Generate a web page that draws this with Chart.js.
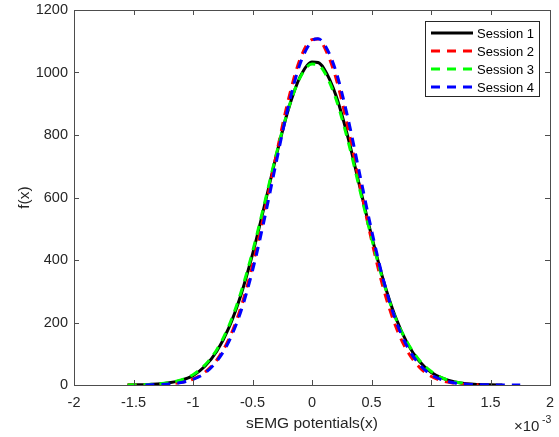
<!DOCTYPE html>
<html>
<head>
<meta charset="utf-8">
<script src="https://cdn.jsdelivr.net/npm/chart.js@4/dist/chart.umd.min.js"></script>
<style>
  body { margin: 0; background: #fff; }
</style>
</head>
<body>
<canvas id="grafico" width="559" height="437"></canvas>
<script>
// x in units of 10^-3
const xsMilli = [-1.55, -1.4, -1.3, -1.2, -1.1, -1.0, -0.9, -0.8, -0.7, -0.6, -0.5, -0.4, -0.3, -0.2, -0.1, 0, 0.05, 0.1, 0.2, 0.3, 0.4, 0.5, 0.6, 0.7, 0.8, 0.9, 1.0, 1.1, 1.2, 1.3, 1.4, 1.5, 1.6, 1.75];

const session1 = [0.3, 1.2, 3, 7, 15, 30, 60, 108, 182, 285, 418, 573, 734, 880, 986, 1034, 1032, 1013, 928, 796, 637, 478, 335, 219, 134, 77, 41, 21, 10, 4, 1.7, 0.7, 0.2, null];
const session2 = [0.1, 0.4, 1.3, 3.4, 8.4, 19, 41, 80, 146, 245, 382, 552, 737, 911, 1043, 1105, 1107, 1084, 984, 827, 644, 464, 309, 191, 109, 58, 28, 13, 5.4, 2.1, 0.7, null, null, null];
const session3 = [0.3, 1.3, 3.3, 7.6, 16.5, 33, 64, 113, 188, 293, 426, 580, 739, 882, 984, 1027, 1024, 1004, 917, 785, 628, 471, 330, 216, 137, 80, 44, 22, 10, 4.3, null, null, null, null];
const session4 = [null, 0.4, 1.2, 3.2, 7.9, 18, 38, 76, 138, 233, 366, 531, 714, 890, 1028, 1101, 1108, 1093, 1005, 857, 677, 496, 336, 211, 123, 67, 33, 15.5, 6.6, 2.7, 1.0, 0.4, 0.2, 0.1];

const xTicks = [-2, -1.5, -1, -0.5, 0, 0.5, 1, 1.5, 2];
const yTicks = [0, 200, 400, 600, 800, 1000, 1200];

const FONT = 'Liberation Sans, Arial, Helvetica, sans-serif';

function pontos(ys) {
    const out = [];
    xsMilli.forEach((x, i) => {
        if (ys[i] !== null) out.push({ x: x, y: ys[i] });
    });
    return out;
}

// box + inward ticks, like the original figure
const caixaPlugin = {
    id: 'caixa',
    afterDatasetsDraw(chart) {
        const ctx = chart.ctx;
        const a = chart.chartArea;
        const sx = chart.scales.x;
        const sy = chart.scales.y;
        ctx.save();
        ctx.strokeStyle = '#4d4d4d';
        ctx.lineWidth = 1;
        ctx.beginPath();
        xTicks.forEach(v => {
            const px = Math.round(sx.getPixelForValue(v)) + 0.5;
            ctx.moveTo(px, a.bottom); ctx.lineTo(px, a.bottom - 5);
            ctx.moveTo(px, a.top); ctx.lineTo(px, a.top + 5);
        });
        yTicks.forEach(v => {
            const py = Math.round(sy.getPixelForValue(v)) + 0.5;
            ctx.moveTo(a.left, py); ctx.lineTo(a.left + 5, py);
            ctx.moveTo(a.right, py); ctx.lineTo(a.right - 5, py);
        });
        ctx.stroke();
        ctx.strokeRect(Math.round(a.left) + 0.5, Math.round(a.top) + 0.5,
            Math.round(a.right - a.left), Math.round(a.bottom - a.top));

        // exponent label
        ctx.fillStyle = '#262626';
        ctx.textBaseline = 'middle';
        ctx.textAlign = 'left';
        ctx.font = '15px ' + FONT;
        ctx.fillText('\u00d710', 514, 427);
        ctx.font = '10.5px ' + FONT;
        ctx.fillText('-3', 542, 420);
        ctx.restore();
    }
};

// legend in the top right corner
const legendaPlugin = {
    id: 'legenda',
    afterDraw(chart) {
        const ctx = chart.ctx;
        const x0 = 425.5, y0 = 21.5, w = 114, h = 75;
        ctx.save();
        ctx.fillStyle = '#fff';
        ctx.fillRect(x0, y0, w, h);
        ctx.strokeStyle = '#262626';
        ctx.lineWidth = 1;
        ctx.strokeRect(x0, y0, w, h);
        ctx.font = '13px ' + FONT;
        ctx.textBaseline = 'middle';
        ctx.textAlign = 'left';
        chart.data.datasets.forEach((ds, i) => {
            const y = 33 + i * 18;
            ctx.strokeStyle = ds.borderColor;
            ctx.lineWidth = ds.borderWidth;
            ctx.setLineDash(ds.borderDash || []);
            ctx.beginPath();
            ctx.moveTo(431, y);
            ctx.lineTo(473, y);
            ctx.stroke();
            ctx.setLineDash([]);
            ctx.fillStyle = '#000';
            ctx.fillText(ds.label, 477, y + 1);
        });
        ctx.restore();
    }
};

const ctx = document.getElementById('grafico').getContext('2d');
const grafico = new Chart(ctx, {
    type: 'line',
    data: {
        datasets: [
            {
                label: 'Session 1',
                data: pontos(session1),
                borderColor: '#000000',
                borderWidth: 3,
                order: 4
            },
            {
                label: 'Session 2',
                data: pontos(session2),
                borderColor: '#ff0000',
                borderWidth: 3,
                borderDash: [9, 7],
                order: 3
            },
            {
                label: 'Session 3',
                data: pontos(session3),
                borderColor: '#00ff00',
                borderWidth: 3,
                borderDash: [9, 7],
                order: 2
            },
            {
                label: 'Session 4',
                data: pontos(session4),
                borderColor: '#0000ff',
                borderWidth: 3,
                borderDash: [9, 7],
                order: 1
            }
        ]
    },
    options: {
        responsive: false,
        animation: false,
        elements: {
            point: { radius: 0 },
            line: { cubicInterpolationMode: 'monotone', fill: false }
        },
        layout: {
            padding: { top: 10, right: 9, left: 0, bottom: 0 }
        },
        plugins: {
            legend: { display: false },
            tooltip: { enabled: false }
        },
        scales: {
            x: {
                type: 'linear',
                min: -2,
                max: 2,
                afterFit(scale) {
                    scale.height = 52;
                    scale.paddingLeft = 0;
                    scale.paddingRight = 0;
                },
                afterBuildTicks(scale) { scale.ticks = xTicks.map(v => ({ value: v })); },
                grid: { display: false, drawTicks: false },
                border: { display: false },
                ticks: {
                    autoSkip: false,
                    maxRotation: 0,
                    padding: 9,
                    color: '#262626',
                    font: { family: FONT, size: 14.5 },
                    callback: v => String(Math.round(v * 10) / 10)
                },
                title: {
                    display: true,
                    text: 'sEMG potentials(x)',
                    color: '#262626',
                    font: { family: FONT, size: 15.5 },
                    padding: { top: 0, bottom: 4 }
                }
            },
            y: {
                min: 0,
                max: 1200,
                afterFit(scale) {
                    scale.width = 74;
                    scale.paddingTop = 0;
                    scale.paddingBottom = 0;
                },
                afterBuildTicks(scale) { scale.ticks = yTicks.map(v => ({ value: v })); },
                grid: { display: false, drawTicks: false },
                border: { display: false },
                ticks: {
                    padding: 6,
                    color: '#262626',
                    font: { family: FONT, size: 14.5 },
                    callback: v => String(v)
                },
                title: {
                    display: true,
                    text: 'f(x)',
                    color: '#262626',
                    font: { family: FONT, size: 15.5 },
                    padding: { top: 15, bottom: 0 }
                }
            }
        }
    },
    plugins: [caixaPlugin, legendaPlugin]
});
</script>
</body>
</html>
